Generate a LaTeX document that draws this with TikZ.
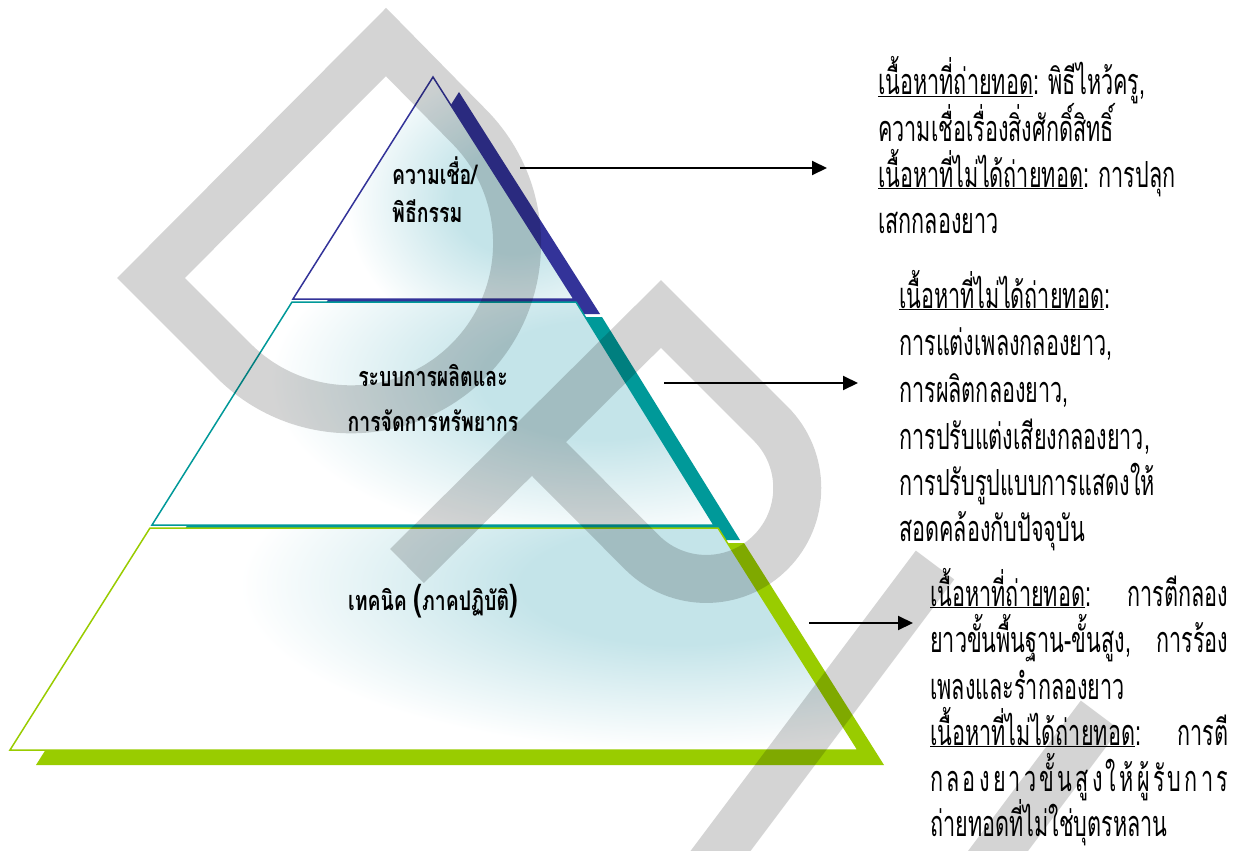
\documentclass[tikz,border=0pt]{standalone}
\usepackage{fontspec}
\usetikzlibrary{arrows.meta}
\newfontfamily\thaitext[Script=Thai,FakeStretch=0.6]{Loma}
\newfontfamily\thailab[Script=Thai,FakeStretch=0.72]{Loma}
\definecolor{topc}{RGB}{51,51,153}
\definecolor{midc}{RGB}{0,153,153}
\definecolor{botc}{RGB}{153,204,0}
\definecolor{fillc}{RGB}{196,228,233}
\pgfdeclareradialshading{glowshade}{\pgfpoint{0bp}{0bp}}{color(0bp)=(fillc); color(9bp)=(fillc); color(25bp)=(white); color(50bp)=(white)}
\tikzset{
  edge/.style={draw=#1, line width=1.5pt, line join=miter},
  glow/.style={shading=glowshade},
  shadowband/.style={fill=#1, draw=none},
  wm/.style={draw=black, draw opacity=0.17, line width=48pt, line join=miter},
  lab/.style={font=\thailab\bfseries\fontsize{27}{30}\selectfont, inner sep=0pt, anchor=base},
  rtext/.style={font=\thaitext\fontsize{36}{46}\selectfont, inner sep=0pt, anchor=base west},
  arr/.style={line width=2pt, -{Triangle[length=15pt,width=14pt]}},
}
\newcommand\rtline[4]{\node[rtext] (#1) at (#2,#3) {#4};}
\begin{document}
\begin{tikzpicture}[x=1pt,y=-1pt]
\useasboundingbox (0,0) rectangle (1240,851);
\fill[white] (0,0) rectangle (1240,851);
% pyramid: top layer
\path[shadowband=topc] (459,92) -- (319,314) -- (600,314) -- cycle;
\begin{scope}
  \clip (433,77) -- (293,299) -- (574,299) -- cycle;
  \fill[white] (280,60) rectangle (600,310);
  \shade[glow] (515,200) ellipse [x radius=170, y radius=150];
\end{scope}
\draw[edge=topc] (433,77) -- (293,299) -- (574,299) -- cycle;
% middle layer
\path[shadowband=midc] (318,317) -- (602,317) -- (740,540) -- (178,540) -- cycle;
\begin{scope}
  \clip (292,302) -- (576,302) -- (714,525) -- (152,525) -- cycle;
  \fill[white] (140,295) rectangle (730,530);
  \shade[glow] (600,380) ellipse [x radius=330, y radius=165];
\end{scope}
\draw[edge=midc] (292,302) -- (576,302) -- (714,525) -- (152,525) -- cycle;
% bottom layer
\path[shadowband=botc] (176,543) -- (744,543) -- (884,765) -- (36,765) -- cycle;
\begin{scope}
  \clip (150,528) -- (718,528) -- (858,750) -- (10,750) -- cycle;
  \fill[white] (0,520) rectangle (870,760);
  \shade[glow] (680,585) ellipse [x radius=440, y radius=165];
\end{scope}
\draw[edge=botc] (150,528) -- (718,528) -- (858,750) -- (10,750) -- cycle;
% watermark
\begin{scope}
\clip (0,0) rectangle (1240,851);
\draw[wm] (386,42) -- (151,278) -- (233.7,360.7) arc[start angle=135,end angle=-45,radius=166] -- cycle;
\draw[wm] (407,566) -- (661,314) -- (770.6,423.6) arc[start angle=-45,end angle=135,radius=91] -- (533,443);
\draw[wm] (935,565) -- (635,965);
\draw[wm] (1100,715) -- (800,1115);
\end{scope}
% layer labels
\node[lab, anchor=base west] (l1a) at (392,184) {ความเชื่อ/};
\node[lab, anchor=base west] (l1b) at (392,222) {พิธีกรรม};
\node[lab] (l2a) at (433,386) {ระบบการผลิตและ};
\node[lab] (l2b) at (433,431) {การจัดการทรัพยากร};
\node[lab] (l3) at (433,610) {เทคนิค {\fontsize{36}{36}\selectfont(}ภาคปฏิบัติ{\fontsize{36}{36}\selectfont)}};
% arrows
\coordinate (a1s) at (520,168); \coordinate (a1e) at (827,168);
\coordinate (a2s) at (664,383); \coordinate (a2e) at (858,383);
\coordinate (a3s) at (809,623); \coordinate (a3e) at (913,623);
\draw[arr] (a1s) -- (a1e);
\draw[arr] (a2s) -- (a2e);
\draw[arr] (a3s) -- (a3e);
% block 1
\rtline{ba1}{878}{95}{\underline{เนื้อหาที่ถ่ายทอด}: พิธีไหว้ครู,}
\rtline{ba2}{878}{141}{ความเชื่อเรื่องสิ่งศักดิ์สิทธิ์}
\rtline{ba3}{878}{187}{\underline{เนื้อหาที่ไม่ได้ถ่ายทอด}: การปลุก}
\rtline{ba4}{878}{233}{เสกกลองยาว}
% block 2
\rtline{bb1}{899}{308}{\underline{เนื้อหาที่ไม่ได้ถ่ายทอด}:}
\rtline{bb2}{899}{355}{การแต่งเพลงกลองยาว,}
\rtline{bb3}{899}{402}{การผลิตกลองยาว,}
\rtline{bb4}{899}{449}{การปรับแต่งเสียงกลองยาว,}
\rtline{bb5}{899}{495}{การปรับรูปแบบการแสดงให้}
\rtline{bb6}{899}{541}{สอดคล้องกับปัจจุบัน}
% block 3
\rtline{bc1}{930}{606}{\makebox[298pt][s]{\underline{เนื้อหาที่ถ่ายทอด}: การตีกลอง}}
\rtline{bc2}{930}{652}{\makebox[298pt][s]{ยาวขั้นพื้นฐาน-ขั้นสูง, การร้อง}}
\rtline{bc3}{930}{699}{เพลงและรำกลองยาว}
\rtline{bc4}{930}{745}{\makebox[298pt][s]{\underline{เนื้อหาที่ไม่ได้ถ่ายทอด}: การตี}}
\rtline{bc5}{930}{791}{\hbox to 298pt{ก\hfill ล\hfill อ\hfill ง\hfill ย\hfill า\hfill ว\hfill ขั้\hfill น\hfill สู\hfill ง\hfill ใ\hfill ห้\hfill ผู้\hfill รั\hfill บ\hfill ก\hfill า\hfill ร}}
\rtline{bc6}{930}{836}{ถ่ายทอดที่ไม่ใช่บุตรหลาน}
\end{tikzpicture}
\end{document}
